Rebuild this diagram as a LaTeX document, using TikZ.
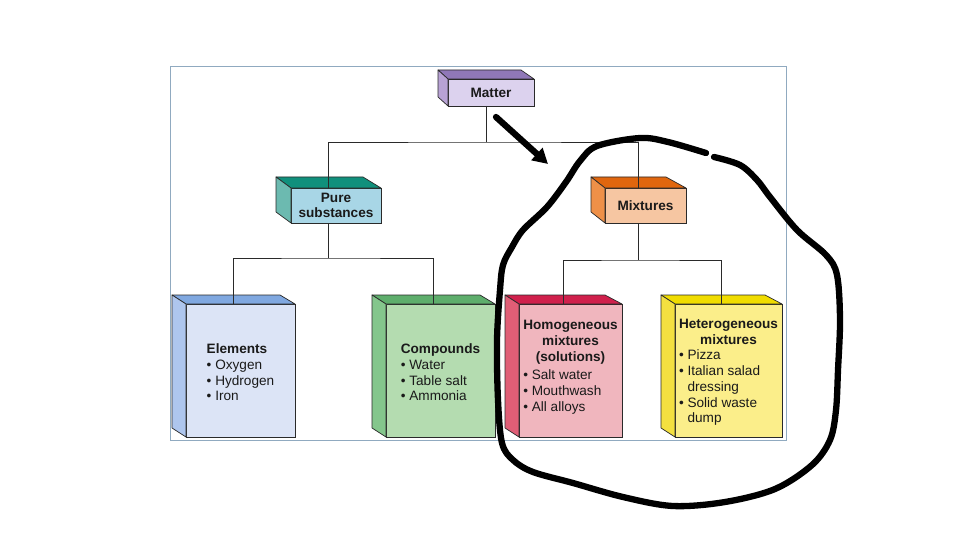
\documentclass[tikz,border=0pt]{standalone}
\usepackage{fontspec}
\setmainfont{Liberation Sans}
\usetikzlibrary{arrows.meta}
\definecolor{frameblue}{HTML}{90AAC0}
\definecolor{txt}{HTML}{1A1A1A}
\definecolor{edgec}{HTML}{2A2A2A}
\definecolor{Mtop}{HTML}{9078B8}\definecolor{Mside}{HTML}{B8A2D4}\definecolor{Mfront}{HTML}{DCD2EE}
\definecolor{Ptop}{HTML}{10907C}\definecolor{Pside}{HTML}{6CBAB0}\definecolor{Pfront}{HTML}{A8D6E6}
\definecolor{Xtop}{HTML}{E0660E}\definecolor{Xside}{HTML}{EE9048}\definecolor{Xfront}{HTML}{F6C6A2}
\definecolor{Etop}{HTML}{80A8E0}\definecolor{Eside}{HTML}{AEC6EE}\definecolor{Efront}{HTML}{DCE4F6}
\definecolor{Ctop}{HTML}{5EAE6C}\definecolor{Cside}{HTML}{84C68C}\definecolor{Cfront}{HTML}{B4DCB0}
\definecolor{Htop}{HTML}{D0204C}\definecolor{Hside}{HTML}{E05E76}\definecolor{Hfront}{HTML}{F0B6BE}
\definecolor{Ytop}{HTML}{F0DC00}\definecolor{Yside}{HTML}{F4E040}\definecolor{Yfront}{HTML}{FBEE8A}
\tikzset{
  facebox/.style={draw=edgec, line width=0.7pt, inner sep=0pt, outer sep=0pt, rectangle},
  edgeline/.style={draw=edgec, line width=0.7pt, line join=round},
  conn/.style={draw=edgec, line width=0.7pt},
  lbl/.style={text=txt, inner sep=0pt, font=\fontsize{13.6}{15.7}\selectfont},
  hand/.style={draw=black, line width=6.3pt, line cap=round, line join=round},
  framebox/.style={draw=frameblue, line width=0.9pt}
}
% #1 name, #2 colour prefix, #3 x1, #4 y1, #5 x2, #6 y2 (front face), #7 back x, #8 back y, #9 back right x
\newcommand\cubebox[9]{%
  \node[facebox, fill=#2front, minimum width={(#5-#3)*1pt}, minimum height={(#6-#4)*1pt}] (#1) at ({(#3+#5)/2},{(#4+#6)/2}) {};
  \draw[edgeline, fill=#2top] (#7,#8) -- (#9,#8) -- (#1.north east) -- (#1.north west) -- cycle;
  \draw[edgeline, fill=#2side] (#7,#8) -- (#1.north west) -- (#1.south west) -- (#7,{#6-#4+#8}) -- cycle;
  \coordinate (#1-in) at ({(#7+#5)/2},#4);
  \coordinate (#1-out) at ({(#7+#5)/2},#6);
}
\begin{document}
\begin{tikzpicture}[x=1pt,y=-1pt]
\useasboundingbox (0,0) rectangle (960,540);
\fill[white] (0,0) rectangle (960,540);
\draw[framebox] (170,66) rectangle (786,440);

\cubebox{matter}{M}{448}{79}{534}{106}{438}{70}{521}
\cubebox{pure}{P}{291}{188}{381}{223}{276}{177}{363}
\cubebox{mix}{X}{605}{188}{686}{223}{591}{177}{666}
\cubebox{elem}{E}{186}{304}{295}{437}{172}{295}{280}
\cubebox{comp}{C}{386}{304}{495}{437}{372}{295}{480}
\cubebox{homo}{H}{519}{304}{622}{437}{505}{295}{605}
\cubebox{hetero}{Y}{675}{304}{782}{437}{661}{295}{765}

% connectors
\draw[conn] (matter-out) -- ++(0,36) coordinate (j1);
\draw[conn] (pure-in) |- (j1) -| (mix-in);
\draw[conn] (pure-out) -- ++(0,35) coordinate (j2);
\draw[conn] (elem-in) |- (j2) -| (comp-in);
\draw[conn] (mix-out) -- ++(0,37) coordinate (j3);
\draw[conn] (homo-in) |- (j3) -| (hetero-in);

% labels
\node[lbl] (matter-t) at (matter) {\textbf{Matter}};
\node[lbl, align=center] (pure-t) at (pure) {\textbf{Pure}\\\textbf{substances}};
\node[lbl] (mix-t) at (mix) {\textbf{Mixtures}};
\node[lbl, align=left] (elem-t) at ([yshift=-2pt]elem.center) {\textbf{Elements}\\\textbullet\ Oxygen\\\textbullet\ Hydrogen\\\textbullet\ Iron};
\node[lbl, align=left] (comp-t) at ([yshift=-2pt]comp.center) {\textbf{Compounds}\\\textbullet\ Water\\\textbullet\ Table salt\\\textbullet\ Ammonia};
\node[lbl] (homo-t) at ([yshift=3pt]homo.center) {\begin{tabular}{@{}l@{}}\multicolumn{1}{@{}c@{}}{\textbf{Homogeneous}}\\\multicolumn{1}{@{}c@{}}{\textbf{mixtures}}\\\multicolumn{1}{@{}c@{}}{\textbf{(solutions)}}\\[3pt]\textbullet\ Salt water\\\textbullet\ Mouthwash\\\textbullet\ All alloys\end{tabular}};
\node[lbl] (hetero-t) at ([yshift=-2pt]hetero.center) {\begin{tabular}{@{}l@{}}\multicolumn{1}{@{}c@{}}{\textbf{Heterogeneous}}\\\multicolumn{1}{@{}c@{}}{\textbf{mixtures}}\\\textbullet\ Pizza\\\textbullet\ Italian salad\\\phantom{\textbullet\ }dressing\\\textbullet\ Solid waste\\\phantom{\textbullet\ }dump\end{tabular}};

% hand-drawn annotations
\coordinate (arrowstart) at (496,117);
\coordinate (arrowend) at (548,164);
\draw[hand, -{Triangle[length=15pt,width=16pt]}] (arrowstart) -- (arrowend);
\draw[hand] plot[smooth, tension=0.55] coordinates {(714,157) (740,165) (757,180) (770,197) (797,230) (826,255) (837,275) (840,320) (838,370) (836,410) (830,440) (812,465) (775,489) (725,502) (673,506) (623,497) (573,483) (533,472) (513,460) (502,443) (498,400) (497,340) (500,290) (503,265) (512,247) (523,230) (547,207) (566,182) (580,161) (597,146) (640,138) (668,142) (706,153)};
\end{tikzpicture}
\end{document}
